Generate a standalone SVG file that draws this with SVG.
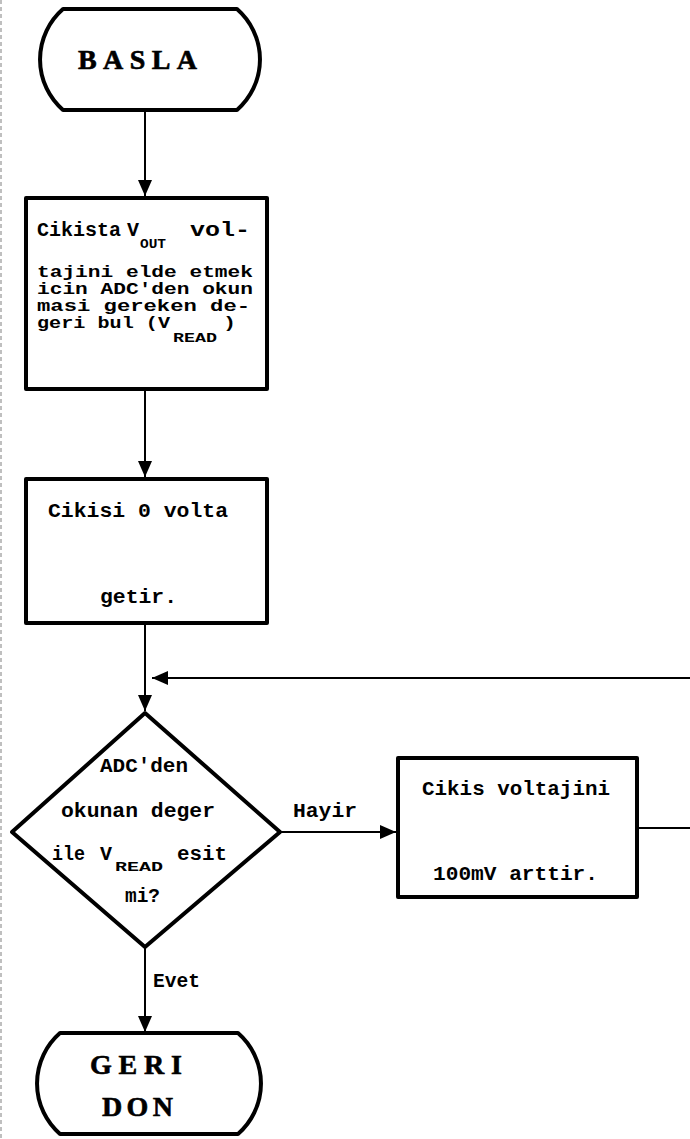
<svg xmlns="http://www.w3.org/2000/svg" width="690" height="1139" viewBox="0 0 690 1139">
<style>
.shape{fill:#fff;stroke:#000;stroke-width:4;stroke-linejoin:round}
.conn{fill:none;stroke:#000;stroke-width:2}
.t{font-family:"Liberation Mono","DejaVu Sans Mono",monospace;font-weight:bold;font-size:20px;fill:#000}
.s{font-family:"Liberation Mono","DejaVu Sans Mono",monospace;font-weight:bold;font-size:16px;fill:#000}
.sub{font-family:"Liberation Mono","DejaVu Sans Mono",monospace;font-weight:bold;font-size:13px;fill:#000}
.term{font-family:"Liberation Serif","Times New Roman",serif;font-weight:bold;font-size:28px;fill:#000;stroke:#000;stroke-width:0.6}
</style>
<defs>
<marker id="arr" markerUnits="userSpaceOnUse" markerWidth="16" markerHeight="14" refX="16" refY="7" orient="auto">
<path d="M0,0 L16,7 L0,14 Z" fill="#000"/>
</marker>
</defs>
<rect width="690" height="1139" fill="#fff"/>
<line x1="1" y1="0" x2="1" y2="1139" stroke="#aaa" stroke-width="1.5" stroke-dasharray="4,3"/>

<g id="connectors">
<line class="conn" x1="145" y1="110" x2="145" y2="196" marker-end="url(#arr)"/>
<line class="conn" x1="145" y1="390" x2="145" y2="477" marker-end="url(#arr)"/>
<line class="conn" x1="145" y1="623" x2="145" y2="711" marker-end="url(#arr)"/>
<line class="conn" x1="280" y1="832" x2="396" y2="832" marker-end="url(#arr)"/>
<path class="conn" d="M638,828 H705 V678 H152" marker-end="url(#arr)"/>
<line class="conn" x1="145" y1="947" x2="145" y2="1032" marker-end="url(#arr)"/>
<text class="t" x="293" y="817" textLength="64" lengthAdjust="spacingAndGlyphs">Hayir</text>
<text class="t" x="153" y="987" textLength="47" lengthAdjust="spacingAndGlyphs">Evet</text>
</g>

<g id="start">
<path class="shape" d="M63,9 H237 A67,67 0 0 1 237,110 H63 A67,67 0 0 1 63,9 Z"/>
<text class="term" x="78" y="69" textLength="119" lengthAdjust="spacing">BASLA</text>
</g>

<g id="compute">
<rect class="shape" x="26" y="198" width="241" height="191"/>
<text class="t" x="37" y="236">Cikista</text>
<text class="t" x="127" y="236">V</text>
<text class="sub" x="140" y="248" textLength="26" lengthAdjust="spacingAndGlyphs">OUT</text>
<text class="t" x="190" y="236" textLength="60" lengthAdjust="spacingAndGlyphs">vol-</text>
<text class="s" x="37" y="277" textLength="216" lengthAdjust="spacingAndGlyphs">tajini elde etmek</text>
<text class="s" x="37" y="294" textLength="216" lengthAdjust="spacingAndGlyphs">icin ADC'den okun</text>
<text class="s" x="37" y="311" textLength="213" lengthAdjust="spacingAndGlyphs">masi gereken de-</text>
<text class="s" x="37" y="328" textLength="133" lengthAdjust="spacingAndGlyphs">geri bul (V</text>
<text class="sub" x="173" y="342" textLength="44" lengthAdjust="spacingAndGlyphs">READ</text>
<text class="s" x="223" y="328" textLength="13" lengthAdjust="spacingAndGlyphs">)</text>
</g>

<g id="zero">
<rect class="shape" x="26" y="479" width="241" height="144"/>
<text class="t" x="48" y="517" textLength="180" lengthAdjust="spacingAndGlyphs">Cikisi 0 volta</text>
<text class="t" x="100" y="603" textLength="77" lengthAdjust="spacingAndGlyphs">getir.</text>
</g>

<g id="decision">
<polygon class="shape" points="145,713 280,832 145,947 12,832"/>
<text class="t" x="100" y="772" textLength="88" lengthAdjust="spacingAndGlyphs">ADC'den</text>
<text class="t" x="61" y="817" textLength="154" lengthAdjust="spacingAndGlyphs">okunan deger</text>
<text class="t" x="52" y="860" textLength="33" lengthAdjust="spacingAndGlyphs">ile</text>
<text class="t" x="100" y="860">V</text>
<text class="sub" x="115" y="871" textLength="48" lengthAdjust="spacingAndGlyphs">READ</text>
<text class="t" x="177" y="860" textLength="50" lengthAdjust="spacingAndGlyphs">esit</text>
<text class="t" x="125" y="902" textLength="35" lengthAdjust="spacingAndGlyphs">mi?</text>
</g>

<g id="increment">
<rect class="shape" x="398" y="758" width="239" height="139"/>
<text class="t" x="422" y="795" textLength="188" lengthAdjust="spacingAndGlyphs">Cikis voltajini</text>
<text class="t" x="433" y="880" textLength="165" lengthAdjust="spacingAndGlyphs">100mV arttir.</text>
</g>

<g id="end">
<path class="shape" d="M60,1033 H238 A67,67 0 0 1 238,1134 H60 A67,67 0 0 1 60,1033 Z"/>
<text class="term" x="90" y="1074" textLength="92" lengthAdjust="spacing">GERI</text>
<text class="term" x="102" y="1116" textLength="71" lengthAdjust="spacing">DON</text>
</g>
</svg>
